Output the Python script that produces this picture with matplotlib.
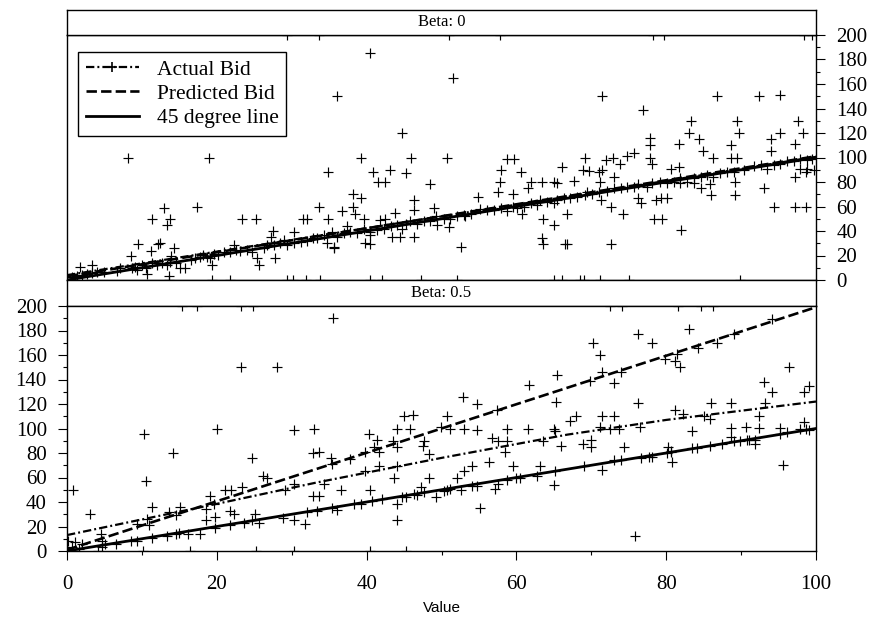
import numpy as np
import matplotlib
matplotlib.use("Agg")
import matplotlib.pyplot as plt
from matplotlib.lines import Line2D
from matplotlib.ticker import MultipleLocator

plt.rcParams["font.family"] = ["Liberation Serif", "DejaVu Serif"]
plt.rcParams["lines.scale_dashes"] = False

# ---- data: Beta = 0 panel (value, bid) ----
b0_band_low = [
    (0.7, 2.7), (1.3, 3.5), (2.0, 4.1), (2.7, 4.6), (3.3, 5.4), (4.0, 6.3), (4.9, 6.3), (6.7, 7.3), (7.1, 9.5), (8.7, 9.5),
    (9.1, 10.9), (9.3, 8.2), (10.0, 12.2), (10.5, 9.5), (11.3, 13.6), (12.0, 12.2), (12.7, 14.1), (13.4, 12.2), (13.8, 15.0), (14.5, 13.6),
    (15.1, 9.5), (15.8, 9.5), (16.5, 16.3), (17.1, 18.2), (17.8, 19.0), (18.2, 20.4), (18.7, 19.0), (19.1, 17.7), (19.6, 21.0), (20.2, 20.4),
    (20.9, 23.1), (21.8, 22.6), (22.3, 28.6), (22.5, 24.5), (23.1, 23.7), (24.0, 24.5), (24.7, 23.1), (26.3, 25.9), (26.7, 28.6), (27.6, 28.6),
    (28.5, 29.9), (29.4, 28.6), (30.3, 29.9), (31.2, 31.3), (32.0, 31.8), (32.9, 34.0),
]
b0_scatter_low = [
    (8.2, 100), (19.0, 100), (13.0, 59), (17.4, 60), (11.3, 50), (13.8, 50), (13.3, 45), (23.4, 50), (25.2, 50), (31.5, 50),
    (32.0, 50), (9.5, 29), (12.2, 29), (12.4, 30), (8.6, 20), (11.2, 24), (14.3, 26), (13.9, 20), (1.8, 11), (3.3, 12),
    (27.5, 40), (30.3, 39), (10.7, 5), (13.6, 3), (25.4, 18), (25.6, 12), (27.8, 18), (19.4, 12), (27.2, 35), (29.0, 33),
]
b0_scatter_mid = [
    (40.5, 185), (36.0, 150), (51.5, 165), (44.7, 120), (39.3, 100), (45.9, 100), (50.8, 100), (34.8, 88), (40.9, 88), (43.1, 90),
    (45.3, 87), (41.5, 80), (42.4, 80), (48.5, 78), (58.7, 98.5), (59.7, 99), (57.9, 90), (57.8, 80), (57.6, 72), (60.6, 88),
    (61.9, 80), (61.6, 75), (63.4, 80), (65.0, 80), (65.4, 79), (66.1, 92), (38.2, 70), (39.2, 67), (46.3, 65), (54.9, 68),
    (33.6, 60), (36.7, 56), (38.2, 60), (38.5, 54), (43.8, 55), (46.3, 57), (49.0, 59), (34.9, 50), (39.7, 50), (42.5, 50),
    (59.6, 70), (60.8, 54), (63.6, 50), (65.0, 45), (52.6, 27), (63.4, 34), (63.6, 29), (66.5, 29), (46.3, 35), (51.0, 43.5),
    (39.8, 30), (40.5, 29), (35.6, 26), (37.4, 44), (43.4, 35),
]
b0_band_mid = [
    (33.4, 34), (34.3, 37), (35.4, 39), (36.0, 35), (37.0, 38), (37.8, 39), (38.7, 38), (39.6, 42), (40.5, 39), (41.4, 41),
    (41.8, 49), (42.3, 42), (43.2, 44), (44.1, 45), (44.7, 42), (45.2, 46), (45.8, 48), (46.7, 46), (47.6, 48), (48.5, 48),
    (49.2, 52), (50.3, 50), (51.2, 50), (52.1, 52), (53.0, 53), (53.9, 54), (55.2, 58), (56.1, 57), (57.0, 57), (57.9, 59),
    (58.7, 56), (59.6, 60), (60.1, 59), (61.0, 60), (61.9, 63), (62.8, 61), (63.2, 65), (64.1, 64), (65.0, 63), (65.4, 65),
    (66.3, 67), (34.7, 30), (35.6, 27), (40.5, 37), (44.5, 35), (49.4, 45), (53.2, 52),
]
b0_scatter_high = [
    (71.4, 150), (76.9, 139), (86.8, 150), (92.4, 150), (95.2, 151), (83.3, 130), (89.5, 130), (97.6, 130), (83.1, 120), (89.7, 120),
    (95.2, 120), (98.2, 120), (84.4, 115), (94.0, 115), (77.9, 116), (77.9, 110), (81.7, 111), (88.7, 110), (97.2, 111), (84.9, 105),
    (94.0, 105), (75.7, 104), (74.8, 101), (77.9, 100), (69.1, 100), (71.9, 98), (72.9, 100), (73.8, 95), (86.3, 100), (88.7, 100),
    (89.5, 100), (78.1, 95), (68.9, 90), (69.7, 89), (71.0, 88), (71.4, 90), (67.7, 81), (71.2, 80), (73.0, 84), (80.6, 91),
    (81.7, 92), (89.2, 80), (71.3, 65), (72.6, 60), (74.2, 54), (76.6, 63), (76.2, 67), (78.6, 65), (79.3, 67), (80.1, 67),
    (78.4, 50), (79.4, 50), (82.0, 41), (84.7, 75), (86.0, 69), (89.2, 69), (93.1, 75), (94.4, 60), (97.2, 60), (98.6, 60),
    (66.8, 29), (72.6, 29), (66.8, 54), (97.2, 84), (98.6, 88), (99.7, 90),
]
b0_band_high = [
    (67.2, 67), (68.1, 68), (69.2, 69), (70.1, 70), (71.0, 72), (72.1, 73), (73.0, 75), (73.9, 75), (74.8, 76), (75.7, 76),
    (76.3, 78), (77.4, 76), (78.1, 79), (79.2, 80), (80.1, 79), (81.0, 80), (81.9, 83), (82.8, 80), (83.7, 83), (84.6, 84),
    (85.5, 86), (86.3, 84), (87.2, 87), (88.1, 88), (89.0, 88), (90.4, 90), (91.7, 93), (92.6, 94), (93.5, 91), (94.4, 94),
    (95.2, 95), (96.1, 97), (97.0, 97), (97.9, 99), (98.8, 98), (99.5, 99), (98.8, 91), (97.9, 91), (83.7, 79), (85.9, 78),
    (81.9, 79), (69.4, 72),
]
b0_zero_bids = [13.6, 19.4, 21.8, 29.4, 30.2, 31.9, 33.8, 40.5, 42.1, 47.2, 52.1, 65.0, 66.1, 68.5, 69.0, 71.2, 75.0, 89.9]
b0_max_bids = [29.4, 33.6, 51.0, 57.8, 78.2, 79.7, 98.4, 99.5]

# ---- data: Beta = 0.5 panel (value, bid) ----
b5_scatter_low = [
    (23.2, 150), (28.1, 150), (10.3, 95.5), (20.0, 100), (30.3, 99), (33.0, 100), (14.2, 80), (32.9, 80), (24.7, 76), (10.5, 57),
    (0.8, 50), (3.1, 30), (26.2, 61), (26.7, 60), (21.1, 50), (21.9, 50), (23.4, 52), (30.3, 55), (29.1, 50), (19.1, 45),
    (11.4, 36), (15.1, 36), (13.6, 32), (14.5, 29), (18.5, 34), (19.6, 38), (19.8, 28), (18.5, 25), (21.8, 33), (22.3, 30),
    (25.1, 30), (25.6, 23), (28.9, 27), (30.3, 25), (31.8, 22), (32.9, 45), (10.7, 26), (9.3, 22), (11.0, 21),
]
b5_band_low = [
    (4.7, 8), (5.1, 6), (6.5, 6), (8.5, 8), (9.3, 8), (11.3, 11), (13.4, 12.5), (14.5, 14), (14.9, 15), (16.2, 14),
    (17.8, 14), (19.8, 19), (21.8, 21), (23.6, 23), (24.7, 25), (32.0, 32), (0.2, 8), (0.7, 3), (1.1, 7), (1.6, 2),
    (2.0, 6), (4.5, 14), (4.7, 3),
]
b5_scatter_mid = [
    (35.5, 190), (65.4, 144), (61.7, 135.5), (52.9, 126), (54.8, 120), (65.3, 122), (45.0, 110), (46.2, 111), (50.7, 110), (57.4, 115),
    (40.3, 95.5), (41.4, 91), (41.0, 85), (44.1, 99.6), (45.8, 100), (43.5, 90), (44.1, 85), (47.6, 89.5), (47.5, 86), (48.3, 79),
    (49.9, 101.5), (51.2, 100), (53.0, 99.6), (54.8, 99), (56.8, 92), (57.6, 90), (58.8, 99.6), (58.8, 90), (58.5, 80.5), (61.6, 99.6),
    (65.0, 100), (65.1, 98), (63.6, 90), (65.9, 86), (35.2, 76), (37.8, 75), (39.8, 80.5), (41.6, 80.5), (33.6, 80.5), (35.4, 71),
    (39.8, 65.6), (41.6, 69.7), (44.1, 69.7), (43.7, 60), (48.3, 60), (52.1, 60), (53.0, 65.6), (54.1, 69.7), (56.4, 73), (59.6, 69.7),
    (63.2, 69.7), (65.2, 65.6), (34.3, 54.7), (33.7, 45), (36.6, 50), (40.5, 50), (47.2, 52.5), (50.7, 50), (52.6, 50), (49.2, 44),
    (55.2, 35), (57.2, 50.6), (65.0, 54), (44.0, 38), (44.0, 25),
]
b5_band_mid = [
    (35.4, 35), (36.1, 33.5), (38.3, 38), (39.2, 38), (40.7, 40.5), (42.1, 42.4), (44.7, 44.4), (45.2, 43.8), (46.3, 46.5), (46.7, 46),
    (47.6, 48), (50.3, 49), (51.2, 50.6), (54.1, 53), (54.8, 53), (57.6, 55), (58.7, 58), (59.9, 60), (60.5, 60), (62.8, 61.5),
    (33.4, 33),
]
b5_scatter_high = [
    (75.9, 12), (83.1, 181), (76.2, 177), (70.2, 170), (78.1, 170), (71.2, 160), (86.8, 170), (89.0, 177), (94.1, 189), (84.3, 166),
    (79.9, 157), (81.2, 155), (81.8, 150), (81.4, 161), (71.4, 146), (73.9, 146), (69.8, 138.5), (73.0, 137), (96.4, 150), (93.0, 138),
    (94.1, 130), (99.0, 135), (98.4, 130), (76.2, 120.5), (86.0, 120.5), (88.6, 120.5), (93.2, 120.5), (81.2, 115), (82.3, 112), (85.0, 110.5),
    (85.9, 108), (92.4, 110.5), (67.2, 106), (67.9, 110.5), (71.4, 110.5), (73.0, 110.5), (71.2, 101), (72.5, 100), (73.7, 100), (76.5, 101),
    (83.5, 98), (88.6, 100.4), (90.7, 101), (92.4, 100.4), (95.2, 100.4), (98.4, 105), (68.9, 87), (70.0, 91), (69.9, 84.6), (74.4, 85),
    (80.3, 85), (80.6, 81), (80.8, 73), (71.4, 66), (88.6, 93), (90.8, 91), (91.9, 87), (95.2, 95.5), (95.6, 70),
]
b5_band_high = [
    (69.0, 69), (73.0, 74), (73.9, 74), (76.6, 76), (77.7, 77), (78.1, 76.5), (80.1, 80), (80.6, 82), (83.5, 84), (84.1, 84),
    (85.9, 86), (87.5, 87), (89.0, 90), (89.9, 90), (91.0, 90.6), (91.9, 91), (96.1, 97), (97.9, 99.6), (98.6, 100), (99.0, 99),
]
b5_zero_bids = [4.1, 10.1, 16.4, 25.2, 30.3, 40.5, 45.2]
b5_max_bids = [15.4, 17.4, 23.2, 24.8, 72.5, 74.1, 81.6, 84.6, 86.3]

# ---- fitted lines ----
line45_x = [0, 100]
line45_y = [0, 100]
pred_b0_x = [0, 100]
pred_b0_y = [3, 101]
actual_b0_x = [0, 33.4, 66.8, 100]
actual_b0_y = [4, 36, 68, 100.5]
pred_b5_x = [0, 100]
pred_b5_y = [1, 199]
actual_b5_x = [0, 20, 33.4, 50, 66.8, 80, 100]
actual_b5_y = [13, 38.5, 56, 76, 95, 107, 122]


def collect(groups, zeros, maxes):
    # juntar grupos + puntos que caen justo en los bordes (0 y 200)
    pts = [p for g in groups for p in g]
    pts += [(v, 0) for v in zeros] + [(v, 200) for v in maxes]
    arr = np.array(pts, dtype=float)
    return arr[:, 0], arr[:, 1]


W, H = 873, 628
fig = plt.figure(figsize=(W / 100, H / 100), dpi=100)


def px_axes(x0, y0, x1, y1):
    return fig.add_axes([x0 / W, 1 - y1 / H, (x1 - x0) / W, (y1 - y0) / H])


ax_top = px_axes(67, 35, 816, 280)
strip_top = px_axes(67, 10, 816, 35)
strip_bot = px_axes(67, 280, 816, 306)
ax_bot = px_axes(67, 306, 816, 551)

for strip, label in [(strip_top, "Beta: 0"), (strip_bot, "Beta: 0.5")]:
    strip.set_xticks([])
    strip.set_yticks([])
    strip.text(0.5, 0.5, label, ha="center", va="center", fontsize=12,
               transform=strip.transAxes)
    for s in strip.spines.values():
        s.set_linewidth(1.0)

dash_actual = (0, (6, 2.2, 1.4, 2.2))
dash_pred = (0, (7.5, 3.0))
mk = dict(marker="+", linestyle="none", color="black", markersize=6.5,
          markeredgewidth=0.85)

panels = [
    (ax_top, collect([b0_band_low, b0_scatter_low, b0_scatter_mid, b0_band_mid,
                      b0_scatter_high, b0_band_high], b0_zero_bids, b0_max_bids),
     pred_b0_x, pred_b0_y, actual_b0_x, actual_b0_y),
    (ax_bot, collect([b5_scatter_low, b5_band_low, b5_scatter_mid, b5_band_mid,
                      b5_scatter_high, b5_band_high], b5_zero_bids, b5_max_bids),
     pred_b5_x, pred_b5_y, actual_b5_x, actual_b5_y),
]

for ax, (vals, bids), px, py, ax_x, ax_y in panels:
    ax.plot(vals, bids, **mk, zorder=2)
    ax.plot(line45_x, line45_y, color="black", lw=2.0, zorder=3)
    ax.plot(px, py, color="black", lw=1.9, linestyle=dash_pred, zorder=3)
    ax.plot(ax_x, ax_y, color="black", lw=1.6, linestyle=dash_actual, zorder=3)
    ax.set_xlim(0, 100)
    ax.set_ylim(0, 200)
    ax.yaxis.set_major_locator(MultipleLocator(20))
    ax.yaxis.set_minor_locator(MultipleLocator(10))
    ax.xaxis.set_major_locator(MultipleLocator(20))
    ax.xaxis.set_minor_locator(MultipleLocator(10))
    ax.tick_params(which="major", length=6.5, width=0.8, direction="out",
                   labelsize=15, pad=8)
    ax.tick_params(which="minor", length=3.2, width=0.8, direction="out")
    for s in ax.spines.values():
        s.set_linewidth(1.0)

ax_top.tick_params(axis="x", which="both", bottom=False, labelbottom=False)
ax_top.tick_params(axis="y", which="both", left=False, labelleft=False,
                   right=True, labelright=True)
ax_bot.tick_params(axis="y", which="both", left=True, labelleft=True)
ax_bot.tick_params(axis="x", which="major", pad=11)

fig.text(441.5 / W, 1 - 608 / H, "Value", ha="center", va="center",
         fontsize=11, family=["Liberation Sans", "DejaVu Sans"])

handles = [
    Line2D([], [], color="black", lw=1.6, linestyle=dash_actual, marker="+",
           markersize=6.5, markeredgewidth=1.2),
    Line2D([], [], color="black", lw=1.9, linestyle=dash_pred),
    Line2D([], [], color="black", lw=2.0),
]
leg = ax_top.legend(handles, ["Actual Bid", "Predicted Bid", "45 degree line"],
                    loc="upper left", bbox_to_anchor=((78 - 67) / 749, (280 - 52) / 245),
                    borderaxespad=0, fontsize=15.5, frameon=True, fancybox=False,
                    framealpha=1, edgecolor="black", handlelength=2.5,
                    handletextpad=0.8, labelspacing=0.2, borderpad=0.35)
leg.get_frame().set_linewidth(1.0)

fig.savefig("out.png", dpi=100)
